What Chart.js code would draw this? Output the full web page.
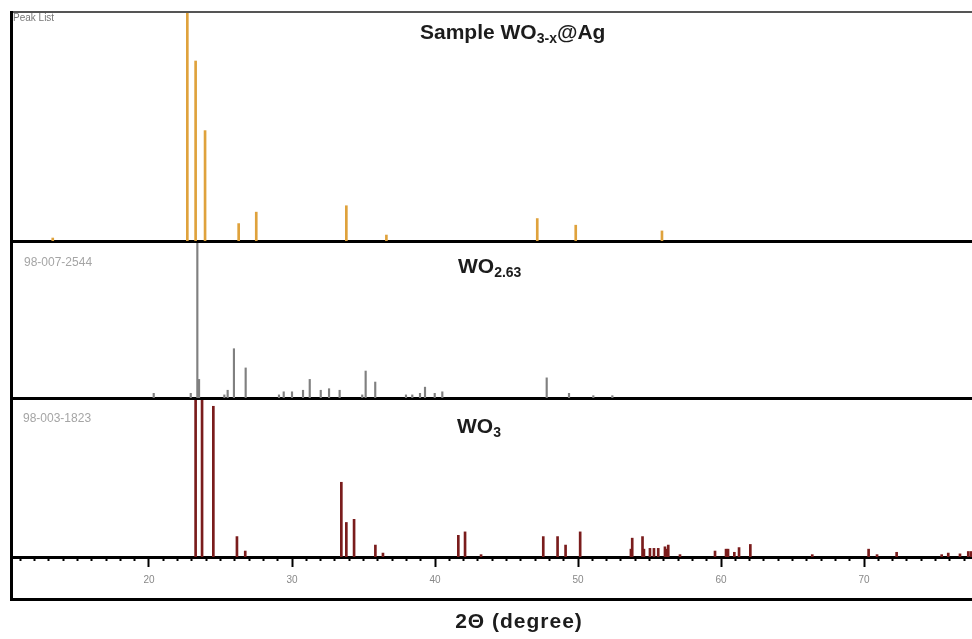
<!DOCTYPE html>
<html>
<head>
<meta charset="utf-8">
<script src="https://cdn.jsdelivr.net/npm/chart.js@4/dist/chart.umd.min.js"></script>
<style>
  body { margin: 0; background: #fff; width: 972px; height: 639px; overflow: hidden; position: relative; font-family: "Liberation Sans", Arial, sans-serif; }
  canvas { position: absolute; }
  .line { position: absolute; }
  .ref { position: absolute; color: #a5a5a5; font-size: 12px; line-height: 12px; }
  .title { position: absolute; font-weight: bold; color: #1c1c1c; font-size: 21px; line-height: 21px; white-space: nowrap; }
  .title sub { font-size: 14px; vertical-align: -4px; line-height: 0; }
</style>
</head>
<body>
<canvas id="sample" width="960" height="231" style="left:12px;top:12px"></canvas>
<canvas id="wo263" width="960" height="157" style="left:12px;top:243px"></canvas>
<canvas id="wo3" width="960" height="195" style="left:12px;top:400px"></canvas>

<div class="line" style="left:12px;top:11px;width:960px;height:2px;background:#555"></div>
<div class="line" style="left:10px;top:11px;width:3px;height:590px;background:#000"></div>
<div class="line" style="left:10px;top:598px;width:962px;height:3px;background:#000"></div>

<div class="ref" style="left:13px;top:12px;font-size:10px;color:#777">Peak List</div>
<div class="title" style="left:420px;top:21px">Sample WO<sub>3-x</sub>@Ag</div>

<div class="ref" style="left:24px;top:256px">98-007-2544</div>
<div class="title" style="left:458px;top:255px">WO<sub>2.63</sub></div>

<div class="ref" style="left:23px;top:412px">98-003-1823</div>
<div class="title" style="left:457px;top:415px">WO<sub>3</sub></div>

<div class="title" style="left:0;width:1038px;text-align:center;top:610px;letter-spacing:1px">2Θ (degree)</div>

<script>
// x range of the picture (degrees 2-theta)
const xMin = 10.42;
const xMax = 77.55;
const majorStep = 10;
const minorStep = 1;

// Sample WO3-x@Ag peak list
const sampleAngles = [13.27, 22.68, 23.26, 23.92, 26.27, 27.50, 33.80, 36.60, 47.15, 49.84, 55.87];
const sampleIntensity = [1.3, 100, 78.6, 48.2, 7.6, 12.6, 15.4, 2.6, 9.8, 6.9, 4.4];

// WO2.63 reference 98-007-2544
const wo263Angles = [20.33, 22.92, 23.38, 23.50, 25.27, 25.50, 25.94, 26.76, 29.09, 29.42, 30.00, 30.77, 31.24, 32.01, 32.59,
  33.33, 34.91, 35.15, 35.82, 37.97, 38.41, 38.95, 39.30, 39.98, 40.51, 47.81, 49.37, 51.07, 52.40];
const wo263Intensity = [3, 3, 100, 12, 2, 5, 31.8, 19.4, 2, 4, 4, 5, 12, 5, 6,
  5, 2, 17.4, 10.3, 2, 2, 3, 7, 3, 4, 13, 3, 1.5, 1.5];

// WO3 reference 98-003-1823
const wo3Angles = [23.26, 23.71, 24.50, 26.15, 26.73, 33.45, 33.80, 34.34, 35.83, 36.36, 41.63, 42.10, 43.22, 47.57, 48.57,
  49.13, 50.15, 53.70, 53.79, 54.51, 54.61, 55.03, 55.31, 55.61, 56.08, 56.20, 56.31, 57.13, 59.58, 60.35,
  60.49, 60.93, 61.26, 62.05, 66.38, 70.32, 70.91, 72.28, 75.43, 75.89, 76.71, 77.29, 77.48];
const wo3Intensity = [100, 100, 96, 13, 3.8, 47.6, 22, 24, 7.6, 2.5, 13.8, 16, 1.5, 13, 13,
  7.6, 16, 5, 12, 13, 5, 5.5, 5.5, 5.5, 6.5, 5, 7.6, 1.5, 3.8, 5,
  5, 3, 6, 8, 1.5, 5, 1.5, 3, 1.5, 2.5, 2, 3.5, 3.5];

function stickChart(id, angles, heights, color, thickness, withAxis) {
  const scales = {
    x: {
      type: "linear", axis: "x", position: "bottom", weight: 0,
      min: xMin, max: xMax, offset: false,
      grid: { display: withAxis, offset: false, drawOnChartArea: false, drawTicks: withAxis,
              tickLength: 4, tickWidth: 2, tickColor: "#000" },
      border: { display: true, color: "#000", width: 3 },
      ticks: { display: false, stepSize: minorStep, includeBounds: false }
    },
    y: { display: false, min: 0, max: 100 }
  };
  if (withAxis) {
    // major ticks + labels sit right under the minor ticks
    scales.x2 = {
      type: "linear", axis: "x", position: "bottom", weight: 1,
      min: xMin, max: xMax, offset: false,
      grid: { display: true, offset: false, drawOnChartArea: false, tickLength: 6, tickWidth: 2, tickColor: "#000" },
      border: { display: false },
      ticks: { stepSize: majorStep, includeBounds: false, color: "#888", padding: 7,
               font: { size: 10, family: "Liberation Sans" } }
    };
  }
  new Chart(document.getElementById(id), {
    type: "bar",
    data: {
      datasets: [{
        data: angles.map((a, i) => ({ x: a, y: heights[i] })),
        backgroundColor: color,
        borderWidth: 0,
        barThickness: thickness
      }]
    },
    options: {
      responsive: false,
      animation: false,
      layout: { padding: { left: 0, right: 0, top: 0, bottom: 2 } },
      plugins: { legend: { display: false }, tooltip: { enabled: false } },
      scales: scales
    }
  });
}

stickChart("sample", sampleAngles, sampleIntensity, "#dfa23c", 2, false);
stickChart("wo263", wo263Angles, wo263Intensity, "#808080", 1.5, false);
stickChart("wo3", wo3Angles, wo3Intensity, "#7a1c1c", 2, true);
</script>
</body>
</html>
